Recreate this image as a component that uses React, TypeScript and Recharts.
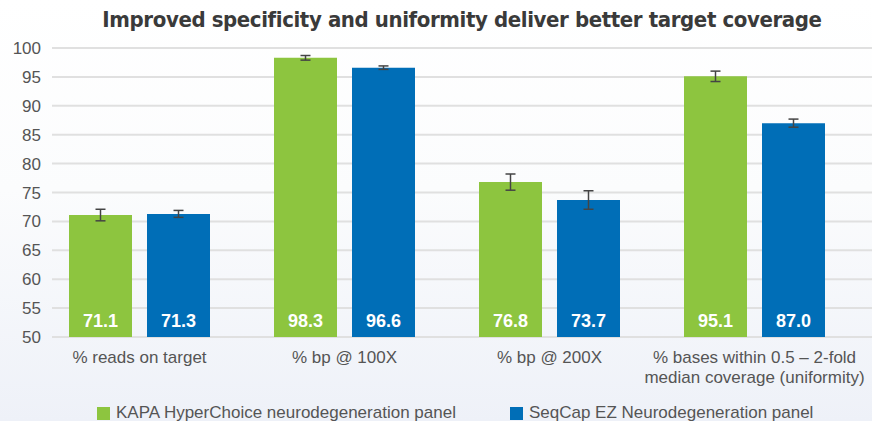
import { Bar, BarChart, CartesianGrid, ErrorBar, LabelList, Legend, XAxis, YAxis } from 'recharts';

const categories = [
  '% reads on target',
  '% bp @ 100X',
  '% bp @ 200X',
  '% bases within 0.5 – 2-fold\nmedian coverage (uniformity)',
];
const kapaValues = [71.1, 98.3, 76.8, 95.1];
const kapaErrors = [1.0, 0.4, 1.4, 0.9];
const seqcapValues = [71.3, 96.6, 73.7, 87.0];
const seqcapErrors = [0.6, 0.3, 1.6, 0.7];
const yTicks = [50, 55, 60, 65, 70, 75, 80, 85, 90, 95, 100];
const seriesNames = ['KAPA HyperChoice neurodegeneration panel', 'SeqCap EZ Neurodegeneration panel'];

const GREEN = '#8dc53f';
const BLUE = '#006eb7';
const TEXT = '#555';
const FONT = "'Liberation Sans', Arial, sans-serif";

const data = categories.map((name, i) => ({
  name,
  kapa: kapaValues[i],
  kapaErr: kapaErrors[i],
  seqcap: seqcapValues[i],
  seqcapErr: seqcapErrors[i],
}));

function YTick(props: any) {
  return (
    <text x={41} y={props.y} dy={6} textAnchor="end" fill={TEXT} fontSize={17} fontFamily={FONT}>
      {props.payload.value}
    </text>
  );
}

function XTick(props: any) {
  const lines = String(props.payload.value).split('\n');
  return (
    <text x={props.x} y={props.y} textAnchor="middle" fill={TEXT} fontSize={17} fontFamily={FONT}>
      {lines.map((line, i) => (
        <tspan key={i} x={props.x} dy={i === 0 ? 18 : 20}>{line}</tspan>
      ))}
    </text>
  );
}

function ValueLabel(props: any) {
  const { x, y, width, height, value } = props;
  return (
    <text x={x + width / 2} y={y + height - 10} textAnchor="middle" fill="#fff" fontSize={18}
      fontWeight="bold" fontFamily={FONT}>
      {Number(value).toFixed(1)}
    </text>
  );
}

function LegendContent() {
  const colors = [GREEN, BLUE];
  return (
    <div style={{ display: 'flex', justifyContent: 'flex-start', gap: 54, height: 23, boxSizing: 'border-box',
      alignItems: 'center', fontFamily: FONT, fontSize: 17, color: TEXT, paddingLeft: 97, paddingTop: 7 }}>
      {seriesNames.map((n, i) => (
        <div key={n} style={{ display: 'flex', alignItems: 'center' }}>
          <span style={{ width: 13, height: 13, background: colors[i], marginRight: 6, display: 'inline-block' }} />
          <span>{n}</span>
        </div>
      ))}
    </div>
  );
}

export default function App() {
  return (
    <div style={{ position: 'absolute', left: 0, top: 0, width: 872, height: 421, overflow: 'hidden',
      background: 'linear-gradient(to bottom, #ffffff 0%, #fbfcfd 45%, #eef1f8 100%)' }}>
      <div style={{ position: 'absolute', top: 7, left: 52, width: 820, textAlign: 'center',
        fontFamily: "'Liberation Sans Narrow', 'DejaVu Sans Condensed', 'Liberation Sans', sans-serif",
        fontWeight: 'bold', fontSize: 22, color: '#3a3a3a', letterSpacing: -0.4, whiteSpace: 'nowrap' }}>
        Improved specificity and uniformity deliver better target coverage
      </div>
      <BarChart width={872} height={421} data={data} margin={{ top: 48, right: 15, left: 0, bottom: 0 }}
        barCategoryGap={32} barGap={15}>
        <CartesianGrid x={52} width={820} vertical={false} stroke="#e0e0e0" strokeWidth={2} />
        <XAxis dataKey="name" axisLine={false} tickLine={false} height={61} interval={0} tick={<XTick />} />
        <YAxis domain={[50, 100]} ticks={yTicks} width={37} axisLine={false} tickLine={false}
          interval={0} tick={<YTick />} />
        <Legend verticalAlign="bottom" content={<LegendContent />} />
        <Bar dataKey="kapa" fill={GREEN} isAnimationActive={false}>
          <ErrorBar dataKey="kapaErr" width={5} stroke="#444" strokeWidth={1.5} direction="y" />
          <LabelList dataKey="kapa" content={<ValueLabel />} />
        </Bar>
        <Bar dataKey="seqcap" fill={BLUE} isAnimationActive={false}>
          <ErrorBar dataKey="seqcapErr" width={5} stroke="#444" strokeWidth={1.5} direction="y" />
          <LabelList dataKey="seqcap" content={<ValueLabel />} />
        </Bar>
      </BarChart>
    </div>
  );
}
